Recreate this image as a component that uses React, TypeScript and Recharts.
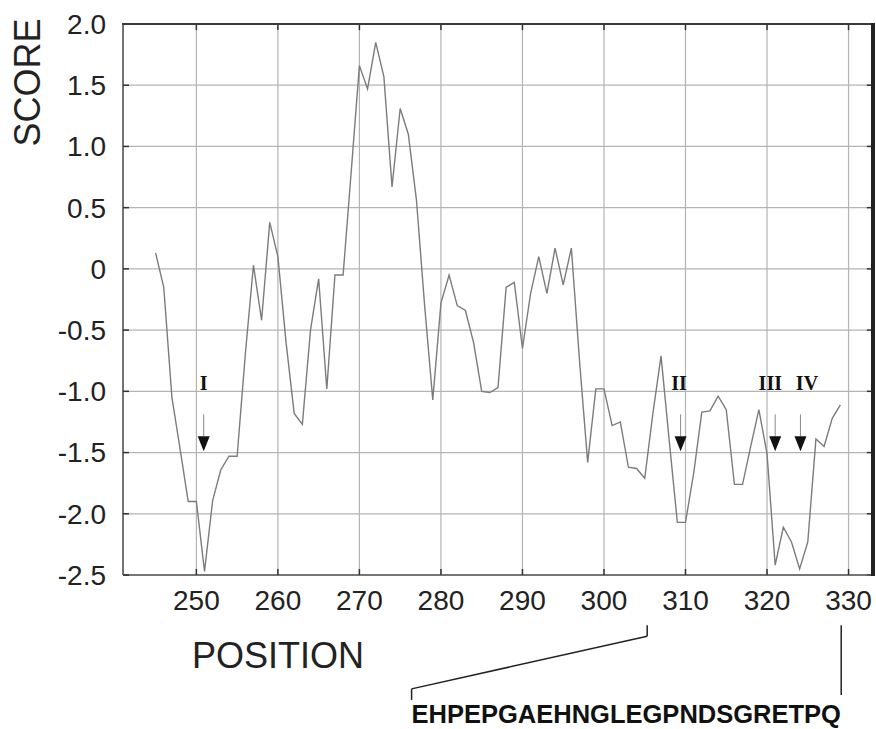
import React from "react";
import { LineChart, Line, XAxis, YAxis, CartesianGrid, ReferenceDot, ReferenceLine } from "recharts";

// residue positions and hydrophilicity score
const POSITIONS = [
  245, 246, 247, 248, 249, 250, 251, 252, 253, 254, 255, 256, 257, 258, 259, 260, 261,
  262, 263, 264, 265, 266, 267, 268, 269, 270, 271, 272, 273, 274, 275, 276, 277, 278,
  279, 280, 281, 282, 283, 284, 285, 286, 287, 288, 289, 290, 291, 292, 293, 294, 295,
  296, 297, 298, 299, 300, 301, 302, 303, 304, 305, 306, 307, 308, 309, 310, 311, 312,
  313, 314, 315, 316, 317, 318, 319, 320, 321, 322, 323, 324, 325, 326, 327, 328, 329,
];
const SCORES = [
  0.13, -0.15, -1.05, -1.47, -1.9, -1.9, -2.47, -1.89, -1.64, -1.53, -1.53, -0.7, 0.03, -0.42, 0.38, 0.1, -0.6,
  -1.18, -1.27, -0.5, -0.08, -0.98, -0.05, -0.05, 0.8, 1.66, 1.47, 1.85, 1.57, 0.67, 1.31, 1.1, 0.56, -0.3,
  -1.07, -0.28, -0.05, -0.3, -0.34, -0.6, -1.0, -1.01, -0.97, -0.15, -0.11, -0.65, -0.2, 0.1, -0.2, 0.17, -0.13,
  0.17, -0.75, -1.58, -0.98, -0.98, -1.28, -1.25, -1.62, -1.63, -1.71, -1.18, -0.71, -1.4, -2.07, -2.07, -1.67, -1.17,
  -1.16, -1.04, -1.15, -1.76, -1.76, -1.45, -1.15, -1.51, -2.42, -2.11, -2.23, -2.45, -2.23, -1.39, -1.45, -1.22, -1.11,
];

const X_DOMAIN = [241, 333];
const Y_DOMAIN = [-2.5, 2];
const X_TICKS = [250, 260, 270, 280, 290, 300, 310, 320, 330];
const Y_TICKS = [-2.5, -2.0, -1.5, -1.0, -0.5, 0, 0.5, 1.0, 1.5, 2.0];

// marked sites
const SITE_LABELS = ["I", "II", "III", "IV"];
const SITE_LABEL_X = [250.9, 309.2, 320.4, 324.9];
const SITE_ARROW_X = [250.9, 309.4, 321.0, 324.1];
const SITE_LABEL_Y = -0.93;
const SITE_ARROW_Y = -1.49;

const SEQUENCE = "EHPEPGAEHNGLEGPNDSGRETPQ";

const FONT = '"Liberation Sans", Arial, sans-serif';

const data = POSITIONS.map((pos, i) => ({ pos, score: SCORES[i] }));

const fmtY = (v: number) => (v === 0 ? "0" : v.toFixed(1));

const arrowShape = (props: any) => {
  const { cx, cy } = props;
  return (
    <g>
      <line x1={cx} y1={cy - 37} x2={cx} y2={cy - 15} stroke="#8a8a8a" strokeWidth={1} />
      <polygon points={`${cx - 6},${cy - 15} ${cx + 6},${cy - 15} ${cx},${cy}`} fill="#111" />
    </g>
  );
};

const labelShape = (text: string) => (props: any) => (
  <text
    x={props.cx}
    y={props.cy}
    textAnchor="middle"
    dominantBaseline="central"
    fontFamily='"Liberation Serif", "Times New Roman", serif'
    fontWeight="bold"
    fontSize={20}
    fill="#111"
  >
    {text}
  </text>
);

const seqShape = (props: any) => (
  <text x={props.cx} y={props.cy} fontFamily={FONT} fontWeight="bold" fontSize={25.5} fill="#111">
    {SEQUENCE}
  </text>
);

export default function App() {
  const [x0, x1] = X_DOMAIN;
  const [y0, y1] = Y_DOMAIN;
  return (
    <div style={{ position: "absolute", left: 0, top: 0, width: 876, height: 729, background: "#fff" }}>
      <LineChart width={876} height={729} data={data} margin={{ top: 24, right: 3, left: 0, bottom: 0 }}>
        <CartesianGrid stroke="#b4b4b4" strokeWidth={1.2} />
        <XAxis
          dataKey="pos"
          type="number"
          domain={X_DOMAIN}
          ticks={X_TICKS}
          allowDataOverflow
          height={154}
          tickSize={-6}
          tickMargin={21}
          axisLine={{ stroke: "#555", strokeWidth: 1.5 }}
          tickLine={{ stroke: "#333", strokeWidth: 1.5 }}
          tick={{ fontSize: 28, fill: "#222", fontFamily: FONT }}
          label={{
            content: (p: any) => (
              <text x={p.viewBox.x + 69} y={p.viewBox.y + 93} fontFamily={FONT} fontSize={36} fill="#222">
                POSITION
              </text>
            ),
          }}
        />
        <YAxis
          type="number"
          domain={Y_DOMAIN}
          ticks={Y_TICKS}
          allowDataOverflow
          width={123}
          tickSize={-6}
          tickMargin={23}
          tickFormatter={fmtY}
          axisLine={{ stroke: "#555", strokeWidth: 1.5 }}
          tickLine={{ stroke: "#333", strokeWidth: 1.5 }}
          tick={{ fontSize: 28, fill: "#222", fontFamily: FONT }}
          label={{
            content: (p: any) => {
              const x = p.viewBox.x + 27.5;
              const y = p.viewBox.y + 58.5;
              return (
                <text
                  x={x}
                  y={y}
                  transform={`rotate(-90 ${x} ${y})`}
                  textAnchor="middle"
                  dominantBaseline="central"
                  fontFamily={FONT}
                  fontSize={36}
                  fill="#222"
                >
                  SCORE
                </text>
              );
            },
          }}
        />
        {/* plot frame: darker top and heavy right edge, with inward ticks */}
        <ReferenceLine segment={[{ x: x0, y: y1 }, { x: x1, y: y1 }]} stroke="#3a3a3a" strokeWidth={2} ifOverflow="visible" />
        <ReferenceLine segment={[{ x: x1, y: y0 }, { x: x1, y: y1 }]} stroke="#222" strokeWidth={4} ifOverflow="visible" />
        {X_TICKS.map((t) => (
          <ReferenceLine
            key={`tt-${t}`}
            segment={[{ x: t, y: y1 }, { x: t, y: y1 - 0.05 }]}
            stroke="#333"
            strokeWidth={1.5}
            ifOverflow="visible"
          />
        ))}
        {Y_TICKS.map((t) => (
          <ReferenceLine
            key={`rt-${t}`}
            segment={[{ x: x1, y: t }, { x: x1 - 0.75, y: t }]}
            stroke="#333"
            strokeWidth={1.5}
            ifOverflow="visible"
          />
        ))}
        <Line
          type="linear"
          dataKey="score"
          stroke="#7c7c7c"
          strokeWidth={1.4}
          dot={false}
          isAnimationActive={false}
        />
        {SITE_LABELS.map((s, i) => (
          <ReferenceDot key={`lab-${s}`} x={SITE_LABEL_X[i]} y={SITE_LABEL_Y} ifOverflow="visible" shape={labelShape(s)} />
        ))}
        {SITE_ARROW_X.map((x, i) => (
          <ReferenceDot key={`arr-${i}`} x={x} y={SITE_ARROW_Y} ifOverflow="visible" shape={arrowShape} />
        ))}
        <ReferenceLine segment={[{ x: 305.3, y: -2.91 }, { x: 305.3, y: -3.0 }]} ifOverflow="visible" stroke="#222" strokeWidth={1.5} />
        <ReferenceLine segment={[{ x: 305.3, y: -3.0 }, { x: 276.4, y: -3.43 }]} ifOverflow="visible" stroke="#222" strokeWidth={1.5} />
        <ReferenceLine segment={[{ x: 276.4, y: -3.43 }, { x: 276.4, y: -3.52 }]} ifOverflow="visible" stroke="#222" strokeWidth={1.5} />
        <ReferenceLine segment={[{ x: 329.1, y: -2.91 }, { x: 329.1, y: -3.48 }]} ifOverflow="visible" stroke="#222" strokeWidth={1.5} />
        <ReferenceDot x={276.4} y={-3.71} ifOverflow="visible" shape={seqShape} />
      </LineChart>
      {/* frame edges repeated as plain boxes so they always show */}
      <div style={{ position: "absolute", left: 122, top: 23, width: 751, height: 2, background: "#3a3a3a" }} />
      <div style={{ position: "absolute", left: 871, top: 23, width: 4, height: 553, background: "#222" }} />
    </div>
  );
}
